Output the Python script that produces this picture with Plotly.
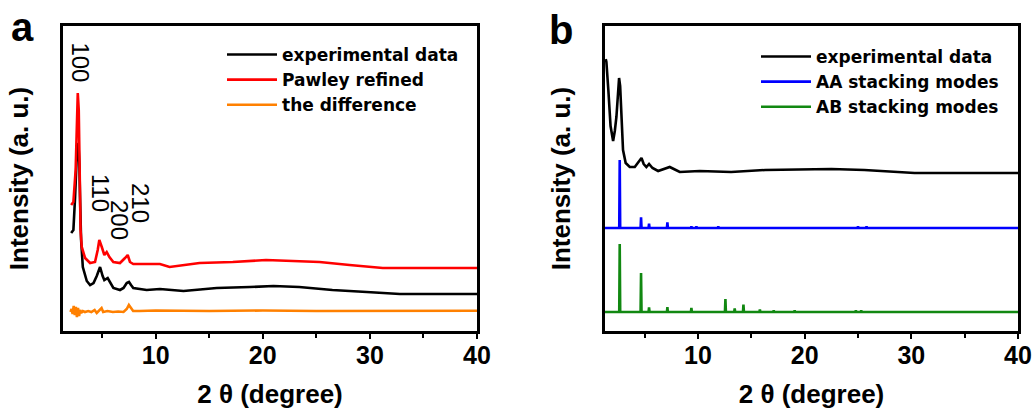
import plotly.graph_objects as go

# ---------------- Panel a data (2θ in degree, intensity in a.u.) ----------------
a_exp_x = [2.11, 2.32, 2.48, 2.62, 2.79, 2.88, 2.94, 3.04, 3.20, 3.41, 3.57, 3.88, 4.20, 4.50,
           4.81, 5.05, 5.21, 5.52, 5.80, 6.05, 6.67, 7.00, 7.30, 7.51, 7.70, 7.91, 9.16, 10.4,
           12.6, 15.7, 18.8, 21.0, 23.4, 26.5, 29.7, 32.8, 36.0, 40.0]
a_exp_y = [98, 101, 134, 171, 188, 166, 134, 91, 64, 55, 50, 46, 48, 55,
           64, 55, 51, 53, 47, 43, 41, 43, 48, 49, 46, 43, 41, 42,
           40, 43, 44, 45, 44, 41, 39, 37, 37, 37]

a_fit_x = [2.11, 2.32, 2.53, 2.62, 2.73, 2.82, 2.90, 2.99, 3.10, 3.41, 3.88, 4.34, 4.59, 4.74,
           4.97, 5.21, 5.43, 5.68, 6.05, 6.67, 7.14, 7.39, 7.60, 7.91, 10.4, 11.3, 14.1, 17.2,
           20.3, 23.4, 25.3, 28.1, 31.2, 34.6, 40.0]
a_fit_y = [126, 129, 161, 211, 238, 221, 151, 101, 84, 73, 68, 69, 81, 91,
           84, 76, 79, 74, 69, 68, 73, 76, 69, 67, 67, 64, 68, 69,
           71, 70, 69, 66, 63, 63, 63]

a_diff_x = [2.05, 2.15, 2.25, 2.35, 2.45, 2.55, 2.65, 2.75, 2.85, 2.95, 3.05, 3.20, 3.40, 3.70,
            4.00, 4.30, 4.50, 4.70, 4.95, 5.10, 5.50, 6.00, 6.50, 7.00, 7.30, 7.50, 7.70, 7.90,
            8.50, 10.0, 15.0, 20.0, 25.0, 30.0, 40.0]
a_diff_y = [19, 22, 17, 25, 16, 24, 14, 23, 15, 21, 18, 20, 19, 20,
            19, 21, 18, 20, 23, 19, 20, 19, 19.5, 19, 22, 26, 23, 20,
            20, 20.5, 20, 20.5, 20, 20.3, 20.3]

a_peak_labels = ["100", "110", "200", "210"]
a_label_x = [2.9, 4.81, 6.58, 8.54]
a_label_y = [269, 138, 111, 128]

# ---------------- Panel b data ----------------
b_exp_x = [1.35, 1.41, 1.60, 1.80, 2.04, 2.20, 2.35, 2.50, 2.60, 2.70, 2.85, 2.97, 3.22, 3.60,
           4.07, 4.47, 4.70, 4.91, 5.16, 5.41, 5.73, 6.26, 6.88, 7.35, 7.73, 8.29, 10.16,
           13.1, 16.3, 20.0, 22.5, 25.6, 28.75, 30.3, 35.0, 40.0]
b_exp_y = [272, 269, 240, 205, 190, 200, 214, 245, 253, 245, 214, 181, 168, 164,
           164, 170, 173, 167, 164, 167, 163, 160, 162, 164, 162, 159, 160,
           159, 161, 162, 162, 161, 159, 158, 158, 158]

aa_baseline = 103
aa_peak_pos = [2.66, 4.66, 5.41, 7.13, 9.38, 9.85, 11.9, 25.0, 25.8]
aa_peak_h = [68, 10.7, 4.3, 5.7, 1.5, 1.5, 1.5, 1.5, 1.5]

ab_baseline = 19
ab_peak_pos = [2.66, 4.66, 5.41, 7.13, 9.38, 12.57, 13.44, 14.26, 15.8, 17.1, 19.06, 24.8, 25.3]
ab_peak_h = [68, 39, 4.7, 5, 4, 13, 3.5, 7.5, 2.5, 1.5, 1.5, 1.5, 1.5]

b_range = [1.28, 40]
a_range = [1.35, 40]


def stick_pattern(pos, h, base, xr, half=0.045):
    xs, ys = [xr[0]], [base]
    for p, hh in zip(pos, h):
        xs += [p - half, p, p + half]
        ys += [base, base + hh, base]
    xs.append(xr[1])
    ys.append(base)
    return xs, ys


aa_x, aa_y = stick_pattern(aa_peak_pos, aa_peak_h, aa_baseline, b_range)
ab_x, ab_y = stick_pattern(ab_peak_pos, ab_peak_h, ab_baseline, b_range)

LW = 2.6
fig = go.Figure()
fig.add_trace(go.Scatter(x=a_exp_x, y=a_exp_y, mode="lines", name="experimental data",
                         line=dict(color="black", width=LW), xaxis="x", yaxis="y",
                         legend="legend", legendgroup="a1"))
fig.add_trace(go.Scatter(x=a_fit_x, y=a_fit_y, mode="lines", name="Pawley refined",
                         line=dict(color="#ff0000", width=LW), xaxis="x", yaxis="y",
                         legend="legend", legendgroup="a2"))
fig.add_trace(go.Scatter(x=a_diff_x, y=a_diff_y, mode="lines", name="the difference",
                         line=dict(color="#ff8000", width=LW), xaxis="x", yaxis="y",
                         legend="legend", legendgroup="a3"))
fig.add_trace(go.Scatter(x=b_exp_x, y=b_exp_y, mode="lines", name="experimental data",
                         line=dict(color="black", width=LW), xaxis="x2", yaxis="y2",
                         legend="legend2", legendgroup="b1"))
fig.add_trace(go.Scatter(x=aa_x, y=aa_y, mode="lines", name="AA stacking modes",
                         line=dict(color="#0000ff", width=LW), xaxis="x2", yaxis="y2",
                         legend="legend2", legendgroup="b2"))
fig.add_trace(go.Scatter(x=ab_x, y=ab_y, mode="lines", name="AB stacking modes",
                         line=dict(color="#118811", width=LW), xaxis="x2", yaxis="y2",
                         legend="legend2", legendgroup="b3"))

W, H = 1034, 409
tickfont = dict(family="Liberation Sans, Arial", size=25, color="black", weight="bold")
titlefont = dict(family="Liberation Sans, Arial", size=26, color="black", weight="bold")
legfont = dict(family="DejaVu Sans", size=17, color="black", weight="bold")

xcommon = dict(showline=True, mirror=True, linewidth=3, linecolor="black", showgrid=False,
               zeroline=False, ticks="outside", ticklen=5, tickwidth=2, tickcolor="black",
               dtick=10, tick0=0, tickfont=tickfont, automargin=False, ticklabelstandoff=-5,
               minor=dict(dtick=5, tick0=0, ticks="outside", ticklen=4, tickwidth=2,
                          tickcolor="black", showgrid=False),
               title=dict(text="2 θ (degree)", font=titlefont, standoff=22))
ycommon = dict(showline=True, mirror=True, linewidth=3, linecolor="black", showgrid=False,
               zeroline=False, ticks="", showticklabels=False, range=[0, 305], automargin=False,
               title=dict(text="Intensity (a. u.)", font=titlefont, standoff=24))

fig.update_layout(
    width=W, height=H, autosize=False, margin=dict(l=0, r=0, t=0, b=0, pad=0, autoexpand=False),
    paper_bgcolor="white", plot_bgcolor="white",
    xaxis=dict(domain=[63 / W, 477 / W], range=a_range, anchor="y", **xcommon),
    yaxis=dict(domain=[(H - 331) / H, (H - 26) / H], anchor="x", **ycommon),
    xaxis2=dict(domain=[605 / W, 1018 / W], range=b_range, anchor="y2", **xcommon),
    yaxis2=dict(domain=[(H - 331) / H, (H - 26) / H], anchor="x2", **ycommon),
    legend=dict(x=222 / W, y=(H - 37) / H, xanchor="left", yanchor="top",
                bgcolor="rgba(0,0,0,0)", font=legfont, itemwidth=50, tracegroupgap=0),
    legend2=dict(x=756 / W, y=(H - 39) / H, xanchor="left", yanchor="top",
                 bgcolor="rgba(0,0,0,0)", font=legfont, itemwidth=50, tracegroupgap=0),
    showlegend=True,
)

ann_font = dict(family="Liberation Sans, Arial", size=24, color="black")
for t, x, y in zip(a_peak_labels, a_label_x, a_label_y):
    fig.add_annotation(text=t, x=x, y=y, xref="x", yref="y", showarrow=False,
                       textangle=90, font=ann_font, xanchor="center", yanchor="middle")

panel_font = dict(family="Liberation Sans, Arial", size=40, color="black", weight="bold")
fig.add_annotation(text="a", x=22.5 / W, y=(H - 27) / H, xref="paper", yref="paper",
                   showarrow=False, font=panel_font, xanchor="center", yanchor="middle")
fig.add_annotation(text="b", x=561 / W, y=(H - 30) / H, xref="paper", yref="paper",
                   showarrow=False, font=panel_font, xanchor="center", yanchor="middle")

fig.write_html("out.html", config={"displayModeBar": False},
               post_script="document.body.style.margin='0';document.body.style.overflow='hidden';")
